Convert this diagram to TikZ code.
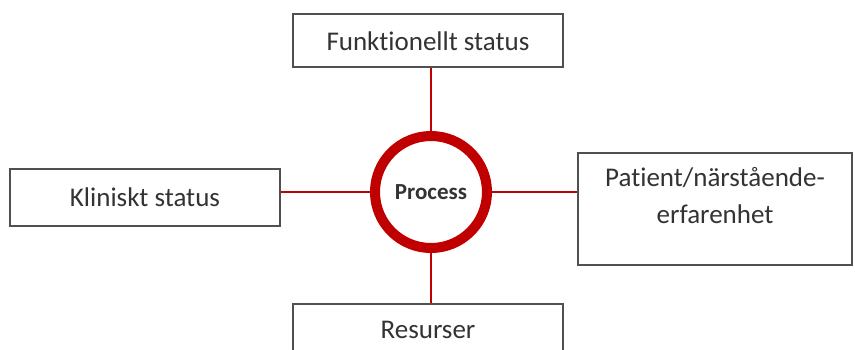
\documentclass[tikz,border=0pt]{standalone}
\usepackage{fontspec}
\setmainfont[Ligatures={NoCommon}]{Carlito}
\definecolor{ringred}{HTML}{C00000}
\definecolor{txtgray}{HTML}{333333}
\definecolor{boxgray}{HTML}{505050}
\begin{document}
\begin{tikzpicture}[x=1pt,y=-1pt,
  box/.style={draw=boxgray,line width=1.4pt,fill=white,inner sep=0pt},
  lbl/.style={text=txtgray,font=\fontsize{27}{37}\selectfont,align=center,inner sep=0pt},
  link/.style={draw=ringred,line width=1.2pt},
  ring/.style={circle,draw=ringred,line width=10pt,minimum size=112pt,inner sep=0pt,
    text=txtgray,font=\fontsize{23}{26}\selectfont\bfseries}]
\useasboundingbox (0,0) rectangle (855,349);
\clip (0,0) rectangle (855,349);
\node[box,minimum width=270pt,minimum height=53pt] (fs) at (428,40.5) {};
\node[lbl] (fst) at (428,41) {Funktionellt status};
\node[box,minimum width=270pt,minimum height=57pt] (kb) at (145,197.5) {};
\node[lbl] (kbt) at (145,197) {Kliniskt status};
\node[box,minimum width=274pt,minimum height=112pt] (pb) at (715,209) {};
\node[lbl] (pbt) at (715,196) {Patient/närstående-\\erfarenhet};
\node[box,minimum width=270pt,minimum height=62pt] (rb) at (428,335) {};
\node[lbl] (rbt) at (428,330) {Resurser};
\node[ring] (pc) at (431,192) {Process};
\draw[link] (pc.north) -- (pc.north |- fs.south);
\draw[link] (pc.south) -- (pc.south |- rb.north);
\draw[link] (pc.west) -- (pc.west -| kb.east);
\draw[link] (pc.east) -- (pc.east -| pb.west);
\end{tikzpicture}
\end{document}
